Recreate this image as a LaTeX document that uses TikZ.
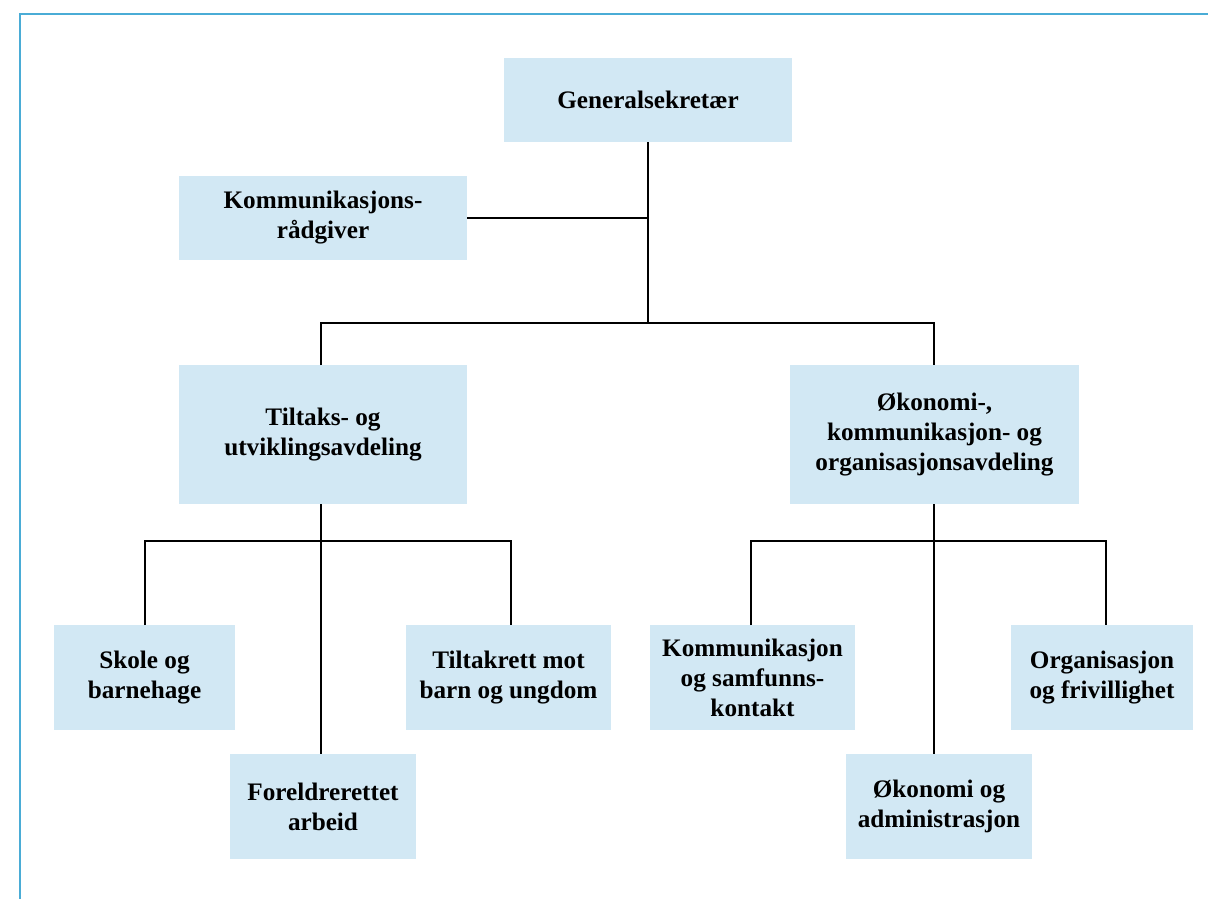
\documentclass[tikz,border=0pt]{standalone}
\usepackage{fontspec}
\setmainfont{Liberation Serif}
\usetikzlibrary{positioning}
\definecolor{boxblue}{RGB}{210,232,244}
\definecolor{rimblue}{RGB}{74,172,214}

\begin{document}
\begin{tikzpicture}[
  x=1pt, y=-1pt,
  box/.style={fill=boxblue, inner sep=0pt, align=center,
    font=\fontsize{25.2}{30}\selectfont\bfseries},
  conn/.style={line width=2.6pt, black},
  rim/.style={line width=2.4pt, rimblue}]

  \useasboundingbox (0,0) rectangle (1208,899);
  \draw[rim] (20,899) -- (20,14) -- (1208,14);

  \node[box, minimum width=288, minimum height=84](gen) at (648,100){Generalsekretær};
  \node[box, minimum width=288, minimum height=84](komr) at (323,218){Kommunikasjons-\\rådgiver};
  \node[box, minimum width=288, minimum height=139](tilt) at (323,434.5){Tiltaks- og\\utviklingsavdeling};
  \node[box, minimum width=289, minimum height=139](okon) at (934.5,434.5){Økonomi-,\\kommunikasjon- og\\organisasjonsavdeling};

  \node[box, minimum width=181, minimum height=105](skole) at (144.5,677.5){Skole og\\barnehage};
  \node[box, minimum width=186, minimum height=105](fore) at (323,806.5){Foreldrerettet\\arbeid};
  \node[box, minimum width=205, minimum height=105](tiltm) at (508.5,677.5){Tiltakrett mot\\barn og ungdom};

  \node[box, minimum width=205, minimum height=105](komm) at (752.5,677.5){Kommunikasjon\\og samfunns-\\kontakt};
  \node[box, minimum width=186, minimum height=105](okadm) at (939,806.5){Økonomi og\\administrasjon};
  \node[box, minimum width=182, minimum height=105](org) at (1102,677.5){Organisasjon\\og frivillighet};

  \coordinate (top) at (648,323);
  \coordinate (left) at (321,541);
  \coordinate (right) at (934,541);

  % ledelse
  \draw[conn] (gen.south) -- (top);
  \draw[conn] (komr.east) -- (komr.east -| gen.south);
  \draw[conn] (321,365) |- (top) -| (934,365);

  % avdelinger
  \draw[conn] (321,504) -- (321,754);
  \draw[conn] (145,625) |- (left) -| (511,625);
  \draw[conn] (934,504) -- (934,754);
  \draw[conn] (751,625) |- (right) -| (1106,625);
\end{tikzpicture}
\end{document}
